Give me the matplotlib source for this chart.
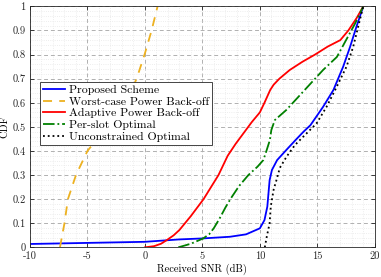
# CDF of received SNR for the five power back-off schemes
import numpy as np
import matplotlib
matplotlib.use("Agg")
import matplotlib.pyplot as plt
from matplotlib.ticker import MultipleLocator

plt.rcParams['font.family'] = ['cmr10', 'DejaVu Serif']
plt.rcParams['axes.unicode_minus'] = False
plt.rcParams['axes.formatter.use_mathtext'] = False

# series (x in dB, y = CDF)
proposed_x = [-10, 0, 3.0, 5.0, 7.4, 8.8, 10.0, 10.4, 10.65, 10.85, 11.05, 11.5, 12.3, 13.1,
              13.8, 14.4, 15.5, 16.4, 17.25, 17.85, 18.4, 19]
proposed_y = [0.014, 0.023, 0.033, 0.037, 0.044, 0.054, 0.079, 0.113, 0.169, 0.279, 0.321, 0.362,
              0.404, 0.445, 0.48, 0.507, 0.583, 0.653, 0.75, 0.832, 0.915, 1.0]

worst_x = [-7.39, -7.2, -7.0, -6.7, -6.0, -5.0, -4.0, -3.0, -2.0, -1.2, -0.72, 0.0, 0.58, 1.1]
worst_y = [0, 0.05, 0.1, 0.2, 0.3, 0.4, 0.46, 0.52, 0.59, 0.65, 0.70, 0.805, 0.90, 1.0]

adaptive_x = [0, 0.8, 1.4, 1.9, 2.5, 3.0, 4.0, 5.1, 6.4, 7.2, 7.9, 8.6, 9.3, 10.0, 10.4, 10.9,
              11.2, 11.7, 12.6, 13.7, 14.8, 15.9, 17.0, 17.7, 18.4, 19]
adaptive_y = [0, 0.005, 0.015, 0.03, 0.05, 0.072, 0.13, 0.2, 0.3, 0.38, 0.43, 0.475, 0.52,
              0.56, 0.6, 0.653, 0.675, 0.70, 0.736, 0.77, 0.80, 0.833, 0.86, 0.90, 0.95, 1.0]

perslot_x = [2.9, 4.0, 5.07, 5.6, 6.0, 6.5, 7.0, 7.5, 8.2, 9.0, 9.8, 10.3, 10.55, 10.87, 11.0,
             11.3, 12.3, 13.9, 15.5, 16.7, 17.5, 18.3, 19]
perslot_y = [0, 0.015, 0.037, 0.055, 0.08, 0.12, 0.165, 0.205, 0.255, 0.3, 0.335, 0.362, 0.397,
             0.445, 0.487, 0.528, 0.57, 0.653, 0.736, 0.79, 0.86, 0.93, 1.0]

unconst_x = [10.43, 10.6, 10.85, 10.95, 11.2, 11.45, 11.74, 12.32, 13.04, 13.77, 14.93, 15.8,
             16.55, 17.54, 18.12, 18.55, 19]
unconst_y = [0, 0.044, 0.1, 0.169, 0.24, 0.28, 0.33, 0.376, 0.424, 0.459, 0.514, 0.583,
             0.653, 0.75, 0.832, 0.915, 1.0]

fig = plt.figure(figsize=(3.81, 2.77), dpi=100)
ax = fig.add_axes([0.0787, 0.107, 0.905, 0.870])

ax.plot(proposed_x, proposed_y, color='#0000ff', lw=1.3, label='Proposed Scheme')
ax.plot(worst_x, worst_y, color='#edb120', lw=1.3, linestyle=(0, (5, 4)),
        label='Worst-case Power Back-off')
ax.plot(adaptive_x, adaptive_y, color='#ff0000', lw=1.3, label='Adaptive Power Back-off')
ax.plot(perslot_x, perslot_y, color='#008000', lw=1.3, linestyle='-.', label='Per-slot Optimal')
ax.plot(unconst_x, unconst_y, color='black', lw=1.3, linestyle=':', label='Unconstrained Optimal')

ax.set_xlim(-10, 20)
ax.set_ylim(0, 1)
ax.xaxis.set_major_locator(MultipleLocator(5))
ax.xaxis.set_minor_locator(MultipleLocator(1))
ax.yaxis.set_major_locator(MultipleLocator(0.1))
ax.yaxis.set_minor_locator(MultipleLocator(0.02))
ax.yaxis.set_major_formatter(plt.FuncFormatter(lambda v, p: '0' if abs(v) < 1e-9 else ('1' if abs(v - 1) < 1e-9 else f'{v:.1f}')))

ax.grid(which='major', color='#b0b0b0', linestyle=(0, (4, 3)), lw=0.7)
ax.grid(which='minor', color='#e8e8e8', linestyle=':', lw=0.6)
ax.set_axisbelow(True)
ax.tick_params(which='major', direction='in', length=3, width=0.6, top=True, right=True,
               labelsize=7.5, colors='#262626', pad=3)
ax.tick_params(which='minor', length=0, top=True, right=True)
for s in ax.spines.values():
    s.set_color('#262626')
    s.set_linewidth(0.6)

ax.set_xlabel('Received SNR (dB)', fontsize=7.5, labelpad=2)
ax.set_ylabel('CDF', fontsize=7.5, labelpad=2)

leg = ax.legend(loc='upper left', bbox_to_anchor=(0.029, 0.687), borderaxespad=0,
                fontsize=8.5, fancybox=False, framealpha=1, edgecolor='#262626',
                handlelength=1.9, handletextpad=0.3, labelspacing=0.12, borderpad=0.25)
leg.get_frame().set_linewidth(0.6)

fig.savefig('out.png', dpi=100)
